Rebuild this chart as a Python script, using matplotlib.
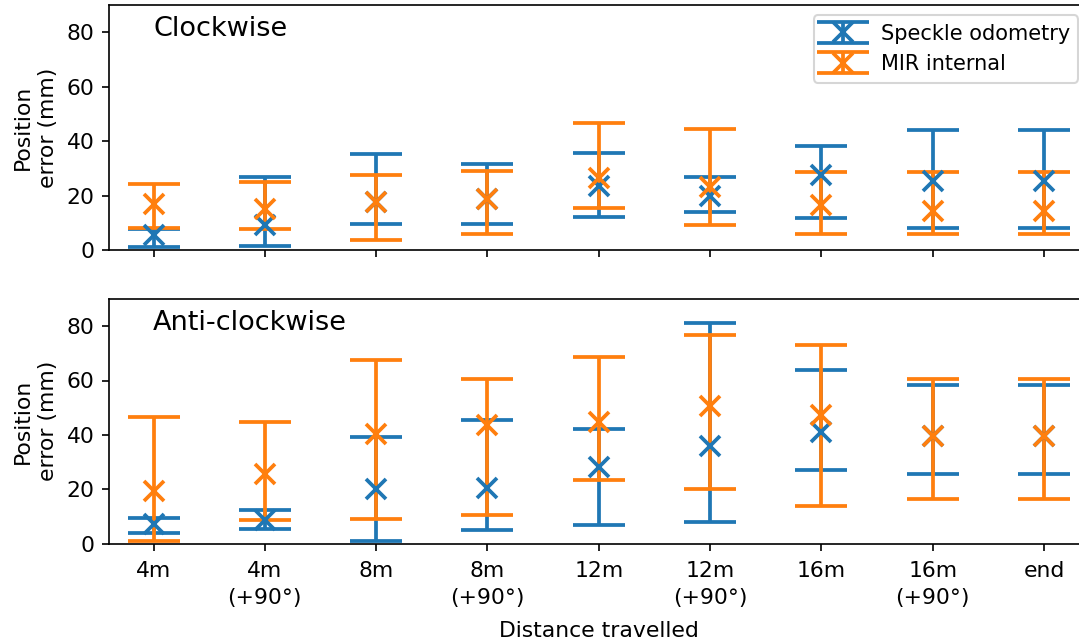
import numpy as np
import matplotlib
matplotlib.use("Agg")
import matplotlib.pyplot as plt

plt.rcParams["font.size"] = 10.5

# x categories
labels = ["4m", "4m\n(+90°)", "8m", "8m\n(+90°)", "12m", "12m\n(+90°)",
          "16m", "16m\n(+90°)", "end"]

# clockwise run: centre, min, max (mm)
cw_speckle = [5.5, 9.2, 17.6, 18.7, 23.6, 19.7, 27.6, 25.4, 25.4]
cw_speckle_lo = [1.2, 1.5, 9.7, 9.7, 12.3, 13.8, 11.9, 7.9, 7.9]
cw_speckle_hi = [7.6, 26.9, 35.4, 31.5, 35.8, 26.7, 38.3, 44.2, 44.2]
cw_mir = [17.0, 15.0, 17.6, 18.7, 26.4, 23.3, 16.6, 14.4, 14.4]
cw_mir_lo = [8.1, 7.6, 3.7, 5.9, 15.6, 9.3, 5.9, 5.9, 5.9]
cw_mir_hi = [24.2, 24.8, 27.4, 29.2, 46.6, 44.6, 28.8, 28.8, 28.8]

# anti-clockwise run
acw_speckle = [7.1, 8.7, 20.0, 20.4, 28.0, 36.0, 40.9, 39.4, 39.4]
acw_speckle_lo = [4.0, 5.5, 0.9, 5.0, 6.7, 7.9, 26.9, 25.5, 25.5]
acw_speckle_hi = [9.4, 12.5, 39.2, 45.3, 42.1, 81.1, 63.7, 58.5, 58.5]
acw_mir = [19.4, 25.6, 40.4, 43.7, 44.9, 50.7, 47.4, 39.4, 39.4]
acw_mir_lo = [0.9, 8.7, 9.2, 10.5, 23.4, 19.9, 13.7, 16.3, 16.3]
acw_mir_hi = [46.7, 44.7, 67.6, 60.6, 68.8, 76.6, 73.2, 60.6, 60.6]


def draw(ax, y, lo, hi, color, name):
    y = np.array(y)
    err = [y - np.array(lo), np.array(hi) - y]
    ax.errorbar(np.arange(len(y)), y, yerr=err, fmt="x", color=color,
                markersize=10, markeredgewidth=1.8, elinewidth=1.8,
                capsize=12.5, capthick=1.6, label=name)


W, H = 1079, 639
fig = plt.figure(figsize=(W / 150, H / 150), dpi=150)
left = 109 / W
width = (1088.6 - 109) / W
ax1 = fig.add_axes([left, (H - 250) / H, width, 245 / H])
ax2 = fig.add_axes([left, (H - 543.5) / H, width, 244.5 / H], sharex=ax1)

draw(ax1, cw_speckle, cw_speckle_lo, cw_speckle_hi, "tab:blue", "Speckle odometry")
draw(ax1, cw_mir, cw_mir_lo, cw_mir_hi, "tab:orange", "MIR internal")
draw(ax2, acw_speckle, acw_speckle_lo, acw_speckle_hi, "tab:blue", "Speckle odometry")
draw(ax2, acw_mir, acw_mir_lo, acw_mir_hi, "tab:orange", "MIR internal")

for ax, title in ((ax1, "Clockwise"), (ax2, "Anti-clockwise")):
    ax.set_ylim(0, 90)
    ax.set_yticks([0, 20, 40, 60, 80])
    ax.set_ylabel("Position\nerror (mm)", linespacing=1.3)
    ax.text(0.045, 0.9, title, transform=ax.transAxes, fontsize=13,
            ha="left", va="center")

ax2.set_xlim(-0.4, 8.4)
ax2.set_xticks(np.arange(len(labels)))
ax2.set_xticklabels(labels, linespacing=1.45)
ax2.tick_params(axis="x", pad=5)
plt.setp(ax1.get_xticklabels(), visible=False)
ax2.set_xlabel("Distance travelled", labelpad=6)
ax1.legend(loc="upper right", fontsize=10)

fig.savefig("out.png", dpi=150)
